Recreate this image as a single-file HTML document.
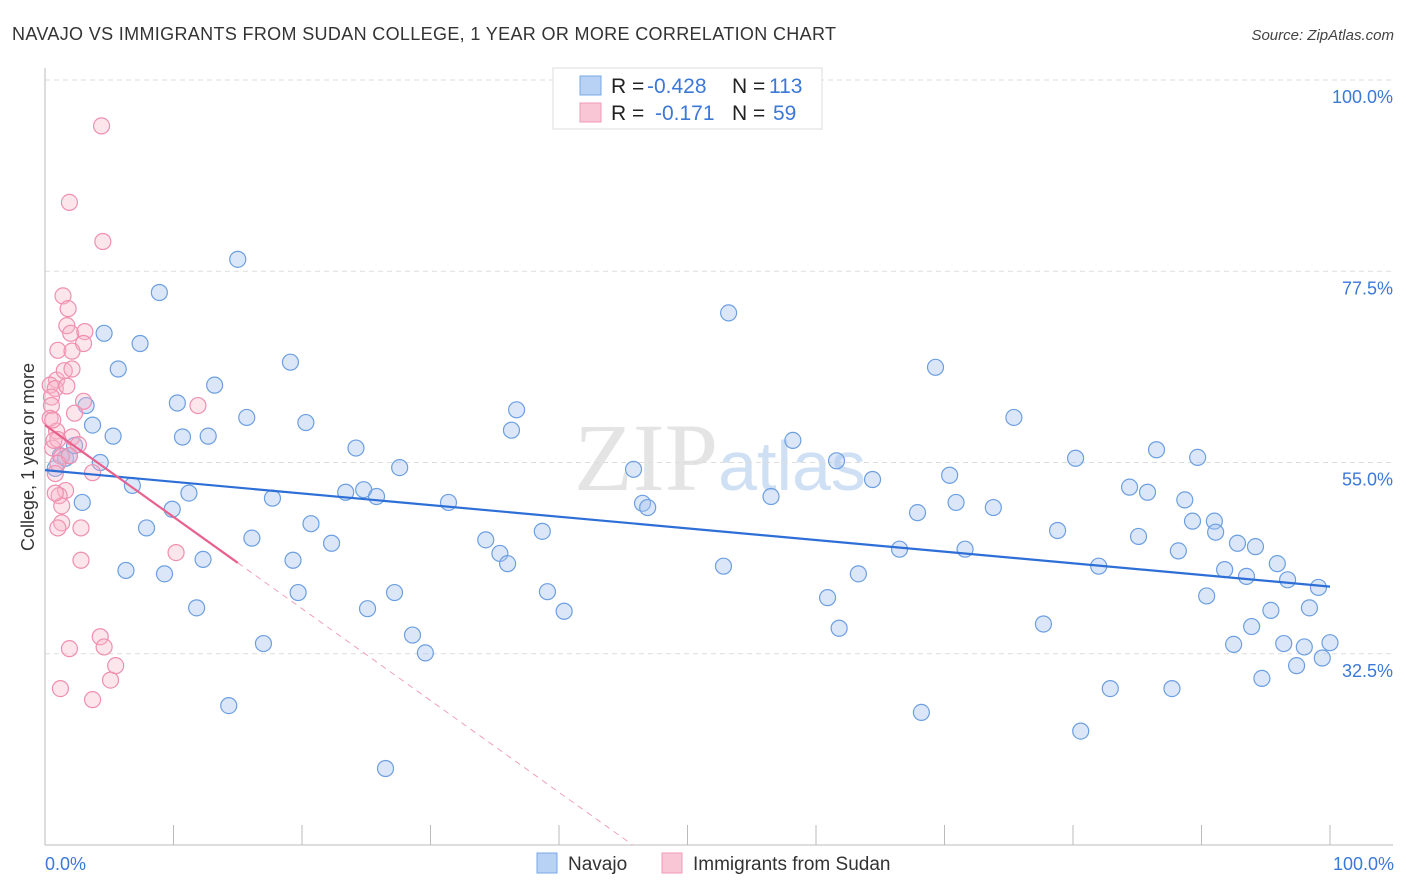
<!DOCTYPE html>
<html><head><meta charset="utf-8"><style>
body{margin:0;background:#fff;font-family:"Liberation Sans",sans-serif;}
svg{display:block}
</style></head><body>
<svg id="chart" width="1406" height="892">
<text x="12" y="40" font-size="18" fill="#333" textLength="824" lengthAdjust="spacing">NAVAJO VS IMMIGRANTS FROM SUDAN COLLEGE, 1 YEAR OR MORE CORRELATION CHART</text>
<text x="1394" y="40" font-size="15" fill="#444" font-style="italic" text-anchor="end">Source: ZipAtlas.com</text>
<text x="720" y="490" font-size="96" fill="#e4e4e4" text-anchor="middle" font-family="Liberation Serif,serif">ZIP<tspan fill="#cfe0f4" font-family="Liberation Sans,sans-serif" font-size="70">atlas</tspan></text>
<g id="grid"></g><g id="axes"></g><g id="marks"></g>
<text transform="translate(34,457) rotate(-90)" font-size="18" fill="#333" text-anchor="middle">College, 1 year or more</text>
<text x="45" y="870" font-size="18" fill="#3b78d8">0.0%</text>
<text x="1394" y="870" font-size="18" fill="#3b78d8" text-anchor="end">100.0%</text>
<g>
<rect x="553" y="68" width="269" height="61" fill="#fff" stroke="#ddd"/>
<rect x="580" y="76" width="21" height="19" fill="#b8d2f5" stroke="#7aa8e6"/>
<rect x="580" y="103" width="21" height="19" fill="#f9c6d6" stroke="#f09ab6"/>
<text x="611" y="93" font-size="21" fill="#222">R = <tspan x="647" fill="#3b78d8">-0.428</tspan><tspan x="732">N = </tspan><tspan x="769" fill="#3b78d8">113</tspan></text>
<text x="611" y="120" font-size="21" fill="#222">R = <tspan x="655" fill="#3b78d8">-0.171</tspan><tspan x="732">N = </tspan><tspan x="773" fill="#3b78d8">59</tspan></text>
</g>
<g>
<rect x="537" y="853" width="20" height="20" fill="#b8d2f5" stroke="#7aa8e6"/>
<text x="568" y="870" font-size="19" fill="#333">Navajo</text>
<rect x="662" y="853" width="20" height="20" fill="#f9c6d6" stroke="#f09ab6"/>
<text x="693" y="870" font-size="19" fill="#333">Immigrants from Sudan</text>
</g>
</svg>
<script>
const yTicks=[100,77.5,55,32.5];
const yTickLabels=["100.0%","77.5%","55.0%","32.5%"];
const xTicks=[0,10,20,30,40,50,60,70,80,90,100];
const navajoX=[0.8,1.2,1.6,1.9,2.3,2.9,3.2,3.7,4.3,4.6,5.3,5.7,6.3,6.8,7.4,7.9,8.9,9.3,9.9,10.3,10.7,11.2,11.8,12.3,12.7,13.2,14.3,15.0,15.7,16.1,17.0,17.7,19.1,19.3,19.7,20.3,20.7,22.3,23.4,24.2,24.8,25.1,25.8,26.5,27.2,27.6,28.6,29.6,31.4,34.3,35.4,36.0,36.3,36.7,38.7,39.1,40.4,45.8,46.5,46.9,52.8,53.2,56.5,58.2,60.9,61.6,61.8,63.3,64.4,66.5,67.9,68.2,69.3,70.4,70.9,71.6,73.8,75.4,77.7,78.8,80.2,80.6,82.0,82.9,84.4,85.1,85.8,86.5,87.7,88.2,88.7,89.3,89.7,90.4,91.0,91.1,91.8,92.5,92.8,93.5,93.9,94.2,94.7,95.4,95.9,96.4,96.7,97.4,98.0,98.4,99.1,99.4,100];
const navajoY=[54.3,55.8,55.5,55.8,57.0,50.3,61.7,59.4,55.0,70.2,58.1,66.0,42.3,52.3,69.0,47.3,75.0,41.9,49.5,62.0,58.0,51.4,37.9,43.6,58.1,64.1,26.4,78.9,60.3,46.1,33.7,50.8,66.8,43.5,39.7,59.7,47.8,45.5,51.5,56.7,51.8,37.8,51.0,19.0,39.7,54.4,34.7,32.6,50.3,45.9,44.3,43.1,58.8,61.2,46.9,39.8,37.5,54.2,50.2,49.7,42.8,72.6,51.0,57.6,39.1,55.2,35.5,41.9,53.0,44.8,49.1,25.6,66.2,53.5,50.3,44.8,49.7,60.3,36.0,47.0,55.5,23.4,42.8,28.4,52.1,46.3,51.5,56.5,28.4,44.6,50.6,48.1,55.6,39.3,48.1,46.8,42.4,33.6,45.5,41.6,35.7,45.1,29.6,37.6,43.1,33.7,41.2,31.1,33.3,37.9,40.3,32.0,33.8];
const sudanX=[4.4,1.9,4.5,1.4,1.8,1.7,2.0,3.1,3.0,1.0,2.1,0.9,1.5,2.1,0.4,0.8,1.7,0.5,3.0,11.9,0.5,2.3,0.4,0.9,2.1,2.6,0.6,1.3,1.9,1.0,3.7,0.8,1.6,1.1,1.3,0.8,1.3,1.0,2.8,10.2,2.8,4.3,4.6,1.9,5.5,5.1,1.2,3.7,1.0,0.6,0.7];
const sudanY=[94.6,85.6,81.0,74.6,73.1,71.1,70.2,70.4,69.0,68.2,68.1,64.7,65.8,66.0,64.1,63.7,64.0,62.7,62.2,61.7,61.7,60.8,60.2,58.7,58.0,57.1,56.7,55.7,55.8,54.9,53.8,53.7,51.7,51.1,49.9,51.4,47.9,47.3,47.3,44.4,43.5,34.5,33.3,33.1,31.1,29.4,28.4,27.1,57.7,60.0,57.6];
const navajoTrend=[54.1,40.4];
const sudanTrend=[59.4,-1.08];

const NS="http://www.w3.org/2000/svg";
const X=v=>45+v*12.85, Y=v=>80+(100-v)*8.5;
function mk(t,a,p){const e=document.createElementNS(NS,t);for(const k in a)e.setAttribute(k,a[k]);p.appendChild(e);return e;}
const grid=document.getElementById('grid'),axes=document.getElementById('axes'),marks=document.getElementById('marks');
yTicks.forEach((t,i)=>{
 const l=mk('line',{x1:45,x2:1393,y1:Y(t),y2:Y(t),stroke:'#ddd','stroke-dasharray':'5,4'},grid);
 
 
 const tx=mk('text',{x:1393,y:Y(t)+23,'font-size':18,fill:'#3b78d8','text-anchor':'end'},axes);
 tx.textContent=yTickLabels[i];
 
 
});
mk('line',{x1:45,x2:45,y1:68,y2:845,stroke:'#bbb'},axes);
mk('line',{x1:45,x2:1393,y1:845,y2:845,stroke:'#bbb'},axes);
xTicks.forEach(t=>{const l=mk('line',{x1:X(t),x2:X(t),y1:825,y2:845,stroke:'#bbb'},axes);
 
 });
function pts(xs,ys,fill,stroke,name){xs.forEach((x,i)=>{const c=mk('circle',{cx:X(x),cy:Y(ys[i]),r:8,fill:fill,stroke:stroke,'stroke-width':1.2},marks);
 
 });}
pts(navajoX,navajoY,'rgba(164,196,240,0.4)','#6c9fe0','navajo-point');
pts(sudanX,sudanY,'rgba(248,180,200,0.35)','#ef8fb0','sudan-point');
const bl=mk('line',{x1:X(0),y1:Y(navajoTrend[0]),x2:X(100),y2:Y(navajoTrend[1]),stroke:'#2d6fd6','stroke-width':2.2},marks);


const xEnd=(sudanTrend[0]-10)/-sudanTrend[1];
const pd=mk('line',{x1:X(15),y1:Y(sudanTrend[0]+15*sudanTrend[1]),x2:X(xEnd),y2:Y(10),stroke:'#f0a0bc','stroke-width':1,'stroke-dasharray':'6,5'},marks);


const ps=mk('line',{x1:X(0),y1:Y(sudanTrend[0]),x2:X(15),y2:Y(sudanTrend[0]+15*sudanTrend[1]),stroke:'#e8608c','stroke-width':2.2},marks);


</script>
</body></html>
